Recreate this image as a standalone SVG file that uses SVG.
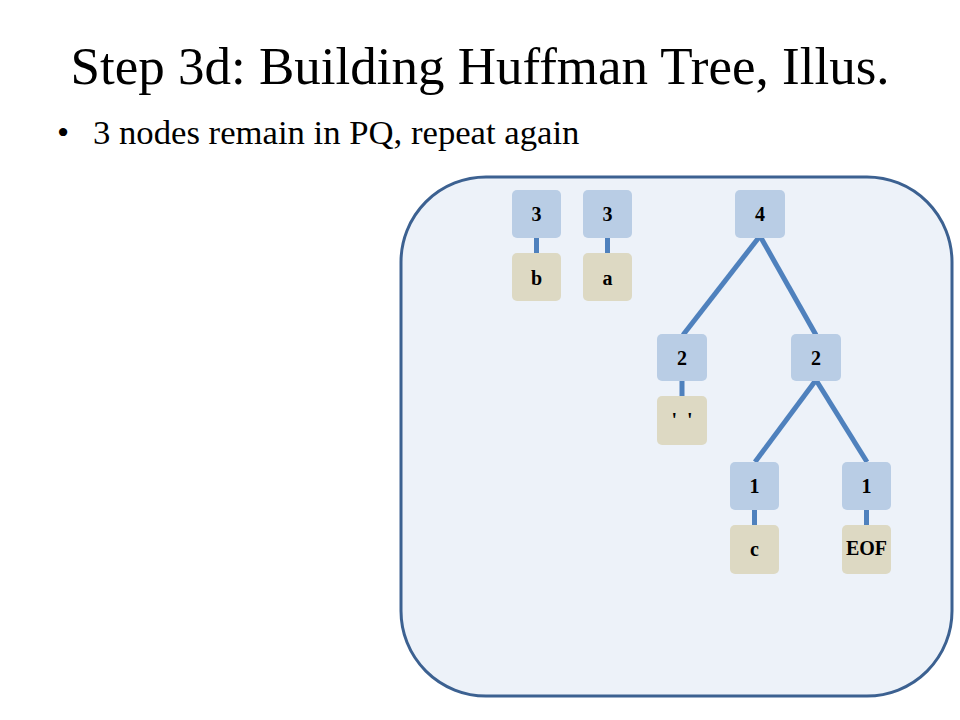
<svg xmlns="http://www.w3.org/2000/svg" width="960" height="720" viewBox="0 0 960 720">
<style>
.t{font-family:"Liberation Serif","Times New Roman",serif;fill:#000}
.n{fill:#b9cde5;rx:5}
.l{fill:#ddd9c3;rx:5}
.lbl{font-family:"Liberation Serif","Times New Roman",serif;font-weight:bold;font-size:20px;text-anchor:middle;fill:#000}
.e{stroke:#4f81bd;stroke-width:5;fill:none}
</style>
<rect width="960" height="720" fill="#fff"/>
<text class="t" x="480" y="84" font-size="53" text-anchor="middle">Step 3d: Building Huffman Tree, Illus.</text>
<text class="t" x="57" y="144" font-size="34.7">•</text>
<text class="t" x="93" y="144" font-size="34.7">3 nodes remain in PQ, repeat again</text>
<rect id="panel" x="401" y="177" width="551" height="519" rx="85" fill="#edf2f9" stroke="#3c6191" stroke-width="3"/>
<g id="connectors">
<line class="e" x1="536.5" y1="238" x2="536.5" y2="253"/>
<line class="e" x1="607.5" y1="238" x2="607.5" y2="253"/>
<line class="e" x1="760" y1="236" x2="683" y2="335"/>
<line class="e" x1="760" y1="236" x2="816" y2="335"/>
<line class="e" x1="682" y1="381" x2="682" y2="396"/>
<line class="e" x1="816" y1="380" x2="755" y2="462"/>
<line class="e" x1="816" y1="380" x2="867" y2="462"/>
<line class="e" x1="754.5" y1="510" x2="754.5" y2="525"/>
<line class="e" x1="866.5" y1="510" x2="866.5" y2="525"/>
</g>
<g id="n3b"><rect class="n" x="512" y="190" width="49" height="48"/><text class="lbl" x="536.5" y="221">3</text></g>
<g id="leaf_b"><rect class="l" x="512" y="253" width="49" height="48"/><text class="lbl" x="536.5" y="285">b</text></g>
<g id="n3a"><rect class="n" x="583" y="190" width="49" height="48"/><text class="lbl" x="607.5" y="221">3</text></g>
<g id="leaf_a"><rect class="l" x="583" y="253" width="49" height="48"/><text class="lbl" x="607.5" y="285">a</text></g>
<g id="n4"><rect class="n" x="735" y="190" width="50" height="48"/><text class="lbl" x="760" y="221">4</text></g>
<g id="n2l"><rect class="n" x="657" y="334" width="50" height="47"/><text class="lbl" x="682" y="365">2</text></g>
<g id="leaf_space"><rect class="l" x="657" y="396" width="50" height="49"/><text class="lbl" x="682" y="427" xml:space="preserve" style="white-space:pre">'  '</text></g>
<g id="n2r"><rect class="n" x="791" y="334" width="50" height="47"/><text class="lbl" x="816" y="365">2</text></g>
<g id="n1c"><rect class="n" x="730" y="462" width="49" height="48"/><text class="lbl" x="754.5" y="493">1</text></g>
<g id="leaf_c"><rect class="l" x="730" y="525" width="49" height="49"/><text class="lbl" x="754.5" y="556">c</text></g>
<g id="n1e"><rect class="n" x="842" y="462" width="49" height="48"/><text class="lbl" x="866.5" y="493">1</text></g>
<g id="leaf_eof"><rect class="l" x="842" y="525" width="49" height="49"/><text class="lbl" x="866.5" y="555" font-size="15">EOF</text></g>
</svg>
